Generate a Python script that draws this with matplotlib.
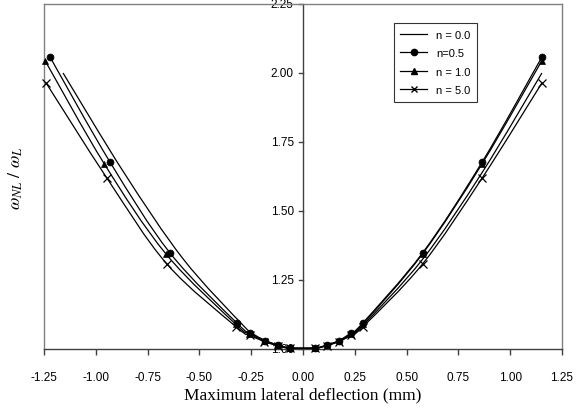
"""
Nonlinear frequency ratio vs maximum lateral deflection for several n.
"""
import matplotlib
matplotlib.use("Agg")
import matplotlib.pyplot as plt
from matplotlib.path import Path
from matplotlib.patches import PathPatch
from matplotlib.lines import Line2D

matplotlib.rcParams.update({"font.family": "Liberation Sans"})

# deflection on the positive side (same for every n)
X_POS = [0.058, 0.115, 0.173, 0.231, 0.288, 0.577, 0.865, 1.153]

# n = 0.0 (symmetric, line only)
Y_N0 = [1.003, 1.013, 1.028, 1.050, 1.085, 1.325, 1.640, 2.000]
XN_N0 = [-0.058, -0.115, -0.173, -0.231, -0.288, -0.577, -0.865, -1.158]

# n = 0.5
Y_N05 = [1.004, 1.014, 1.030, 1.058, 1.094, 1.348, 1.678, 2.058]
XN_N05 = [-0.063, -0.121, -0.183, -0.256, -0.319, -0.642, -0.932, -1.221]

# n = 1.0
Y_N1 = [1.004, 1.014, 1.030, 1.056, 1.090, 1.345, 1.672, 2.045]
XN_N1 = [-0.065, -0.125, -0.189, -0.262, -0.325, -0.662, -0.960, -1.245]

# n = 5.0
Y_N5 = [1.003, 1.012, 1.027, 1.050, 1.080, 1.308, 1.620, 1.964]
XN_N5 = [-0.064, -0.123, -0.186, -0.258, -0.322, -0.657, -0.947, -1.240]

SERIES = [
    ("n = 0.0", XN_N0, Y_N0, None),
    ("n=0.5", XN_N05, Y_N05, "o"),
    ("n = 1.0", XN_N1, Y_N1, "^"),
    ("n = 5.0", XN_N5, Y_N5, "x"),
]


def smooth_path(xs, ys):
    # Catmull-Rom style bezier through the points, like a smoothed line
    pts = list(zip(xs, ys))
    verts = [pts[0]]
    codes = [Path.MOVETO]
    n = len(pts)
    for i in range(n - 1):
        p0 = pts[max(i - 1, 0)]
        p1 = pts[i]
        p2 = pts[i + 1]
        p3 = pts[min(i + 2, n - 1)]
        c1 = (p1[0] + (p2[0] - p0[0]) / 6, p1[1] + (p2[1] - p0[1]) / 6)
        c2 = (p2[0] - (p3[0] - p1[0]) / 6, p2[1] - (p3[1] - p1[1]) / 6)
        verts += [c1, c2, p2]
        codes += [Path.CURVE4] * 3
    return Path(verts, codes)


fig = plt.figure(figsize=(5.76, 4.14), dpi=100)
ax = fig.add_axes([0.0764, 0.1546, 0.8993, 0.8333])
ax.set_xlim(-1.25, 1.25)
ax.set_ylim(1.0, 2.25)

handles = []
for label, xneg, ys, mk in SERIES:
    xs = list(reversed(xneg)) + X_POS
    yy = list(reversed(ys)) + ys
    ax.add_patch(PathPatch(smooth_path(xs, yy), facecolor="none",
                           edgecolor="black", linewidth=0.9, zorder=3))
    if mk:
        ms = 5.5 if mk == "x" else 5
        ax.plot(xs, yy, linestyle="none", marker=mk, color="black",
                markersize=ms, markeredgewidth=0.9 if mk == "x" else 0.5,
                clip_on=False, zorder=4)
    handles.append(Line2D([], [], color="black", linewidth=0.9, marker=mk,
                          markersize=4.5, label=label))

# plot area border
for side in ["top", "right", "left"]:
    ax.spines[side].set_color("#808080")
    ax.spines[side].set_linewidth(1.0)
ax.spines["bottom"].set_color("#404040")
ax.spines["bottom"].set_linewidth(1.0)
ax.axvline(0, color="#404040", linewidth=1.0, zorder=2)

ax.set_xticks([-1.25, -1.0, -0.75, -0.5, -0.25, 0.0, 0.25, 0.5, 0.75, 1.0, 1.25])
ax.set_xticklabels([f"{v:.2f}" for v in ax.get_xticks()])
ax.tick_params(axis="x", direction="out", length=4, width=1, color="#404040",
               pad=12, labelsize=8.5)

# y ticks drawn on the vertical line at x = 0
ax.set_yticks([])
for v in [1.0, 1.25, 1.5, 1.75, 2.0, 2.25]:
    ax.plot([-0.02, 0], [v, v], color="#404040", linewidth=1.0, clip_on=False, zorder=2)
    ax.text(-0.045, v, f"{v:.2f}", ha="right", va="center", fontsize=8.5, zorder=1)

ax.set_xlabel("Maximum lateral deflection (mm)", family="Liberation Serif",
              fontsize=12.5, labelpad=2)
fig.text(0.028, 0.57, r"$\omega_{NL}\ /\ \omega_L$", rotation=90, ha="center",
         va="center", fontsize=13, family="Liberation Serif",
         math_fontfamily="stix")

ax.legend(handles=handles, loc="upper right", bbox_to_anchor=(0.836, 0.944),
          borderaxespad=0, fontsize=8, frameon=True, fancybox=False,
          edgecolor="black", handlelength=2.4, labelspacing=0.75, borderpad=0.6)
ax.get_legend().get_frame().set_linewidth(0.8)

fig.savefig("out.png", dpi=100)
plt.close(fig)
